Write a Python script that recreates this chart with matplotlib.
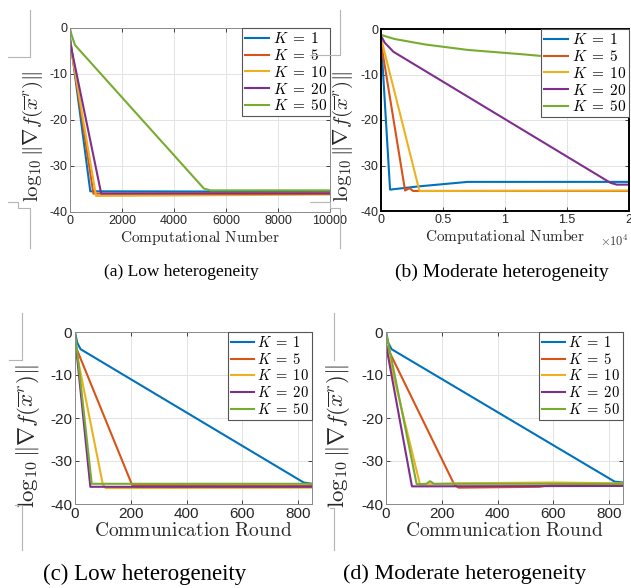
import matplotlib
matplotlib.use("Agg")
import matplotlib.pyplot as plt
from matplotlib.lines import Line2D
from matplotlib.ticker import FuncFormatter

plt.rcParams['mathtext.fontset'] = 'cm'
plt.rcParams['font.family'] = ['Liberation Sans', 'DejaVu Sans']
plt.rcParams['axes.unicode_minus'] = False

W, H = 631, 588

colors = ['#0072BD', '#D95319', '#EDB120', '#7E2F8E', '#77AC30']
K_labels = [r'$K\;=\;1$', r'$K\;=\;5$', r'$K\;=\;10$', r'$K\;=\;20$', r'$K\;=\;50$']

# Panel (a): low heterogeneity, computational number
a_x = [[0, 780, 10000],
       [0, 900, 10000],
       [0, 1000, 10000],
       [0, 1200, 10000],
       [0, 60, 190, 5150, 5400, 10000]]
a_y = [[-2, -35.5, -35.6],
       [-2.5, -36, -35.8],
       [-3, -36.5, -36.2],
       [-3, -36, -36],
       [0, -1.5, -3.7, -34.9, -35.3, -35.3]]

# Panel (b): moderate heterogeneity, computational number
b_x = [[0, 730, 3000, 7000, 20000],
       [0, 1940, 2300, 2600, 20000],
       [0, 3100, 20000],
       [0, 300, 1000, 18500, 19000, 20000],
       [0, 1100, 3550, 7000, 11600, 12800]]
b_y = [[-2, -35.3, -34.6, -33.6, -33.6],
       [-3, -35.5, -35.0, -35.6, -35.6],
       [-2, -35.6, -35.5],
       [-1.5, -3, -5, -33.8, -34.2, -34.2],
       [-1.3, -2.2, -3.4, -4.6, -5.6, -5.9]]

# Panel (c): low heterogeneity, communication round
c_x = [[0, 8, 20, 820, 850],
       [0, 205, 850],
       [0, 100, 110, 850],
       [0, 55, 850],
       [0, 60, 850]]
c_y = [[0, -2.5, -4, -35, -35.3],
       [-3, -35.6, -35.8],
       [-3, -35.5, -36.3, -36.2],
       [-1, -36, -36],
       [0, -35.3, -35.3]]

# Panel (d): moderate heterogeneity, communication round
d_x = [[0, 8, 20, 820, 850],
       [0, 245, 260, 550, 600, 850],
       [0, 122, 250, 600, 850],
       [0, 93, 850],
       [0, 110, 145, 158, 172, 850]]
d_y = [[0, -2.5, -4, -34.8, -35],
       [-3, -35.5, -36.2, -36, -35.5, -35.4],
       [-3, -35.5, -35.2, -35.0, -35.2],
       [-3, -35.9, -35.8],
       [0, -35.4, -35.3, -34.7, -35.3, -35.3]]

ylabel = r'$\log_{10}\|\nabla f(\overline{x}^r)\|$'

fig = plt.figure(figsize=(W / 100, H / 100), dpi=100)


def make_ax(l, r, t, b):
    return fig.add_axes([l / W, 1 - b / H, (r - l) / W, (b - t) / H])


panels = [
    dict(box=(70, 330, 28, 212), xs=a_x, ys=a_y, xlim=(0, 10000),
         xticks=[0, 2000, 4000, 6000, 8000, 10000],
         xlabel=r'$\mathrm{Computational\ Number}$', xl_size=11, yl_size=15,
         yl_xy=(-0.096, 0.41),
         tick_size=9, caption='(a) Low heterogeneity', cap_xy=(181, 272),
         cap_size=12.5, black=False, leg_size=11),
    dict(box=(381, 629, 29, 211), xs=b_x, ys=b_y, xlim=(0, 20000),
         xticks=[0, 5000, 10000, 15000, 20000],
         xlabel=r'$\mathrm{Computational\ Number}$', xl_size=11, yl_size=15,
         yl_xy=(-0.105, 0.41),
         tick_size=9, caption='(b) Moderate heterogeneity', cap_xy=(502, 272),
         cap_size=14, black=True, leg_size=11),
    dict(box=(75, 312, 332, 504), xs=c_x, ys=c_y, xlim=(0, 850),
         xticks=[0, 200, 400, 600, 800],
         xlabel=r'$\mathrm{Communication\ Round}$', xl_size=14, yl_size=16.5,
         yl_xy=(-0.139, 0.395),
         tick_size=11, caption='(c) Low heterogeneity', cap_xy=(145, 574),
         cap_size=16.5, black=False, leg_size=10.5),
    dict(box=(386, 623, 332, 504), xs=d_x, ys=d_y, xlim=(0, 850),
         xticks=[0, 200, 400, 600, 800],
         xlabel=r'$\mathrm{Communication\ Round}$', xl_size=14, yl_size=16.5,
         yl_xy=(-0.143, 0.395),
         tick_size=11, caption='(d) Moderate heterogeneity', cap_xy=(465, 574),
         cap_size=16, black=False, leg_size=10.5),
]

for i, p in enumerate(panels):
    ax = make_ax(*p['box'])
    for k in range(5):
        ax.plot(p['xs'][k], p['ys'][k], color=colors[k], lw=1.5,
                label=K_labels[k])
    ax.set_xlim(*p['xlim'])
    ax.set_ylim(-40, 0)
    ax.set_xticks(p['xticks'])
    ax.set_yticks([-40, -30, -20, -10, 0])
    ax.grid(True, color='#e3e3e3', lw=0.7)
    ax.set_axisbelow(True)
    ax.tick_params(direction='in', top=True, right=True, length=3,
                   labelsize=p['tick_size'], colors='#262626', width=0.6,
                   pad=2)
    ec = 'black' if p['black'] else '#8a8a8a'
    lw = 1.4 if p['black'] else 0.7
    for s in ax.spines.values():
        s.set_color(ec)
        s.set_linewidth(lw)
    if i == 1:
        ax.xaxis.set_major_formatter(FuncFormatter(
            lambda v, pos: ('%g' % (v / 1e4))))
        ax.text(1.0, -0.17, r'$\times10^4$', transform=ax.transAxes,
                fontsize=9, color='#404040', ha='right', va='center',
                family='DejaVu Sans')
    ax.set_xlabel(p['xlabel'], fontsize=p['xl_size'], labelpad=1,
                  color='#262626')
    ax.set_ylabel(ylabel, fontsize=p['yl_size'], color='#262626')
    ax.yaxis.set_label_coords(*p['yl_xy'])
    leg = ax.legend(loc='upper right', fontsize=p['leg_size'],
                    borderaxespad=0, fancybox=False, framealpha=1,
                    edgecolor='#555555', handlelength=1.6, handletextpad=0.2,
                    borderpad=0.2, labelspacing=0.12)
    leg.get_frame().set_linewidth(0.8)
    fig.text(p['cap_xy'][0] / W, 1 - p['cap_xy'][1] / H, p['caption'],
             ha='center', va='center', fontsize=p['cap_size'],
             family='Liberation Serif')

# gray crop-mark artifacts present in the reference
gray = '#b5b5b5'
marks = [
    [(8, 57), (30, 57), (30, 10)],
    [(8, 202), (18, 202), (18, 208), (30, 208), (30, 248)],
    [(310, 55), (340, 55), (340, 10)],
    [(310, 202), (330, 202), (330, 208), (340, 208), (340, 248)],
    [(9, 360), (22, 360), (22, 313)],
    [(15, 505), (22, 505), (22, 550)],
    [(334, 313), (334, 360)],
    [(330, 508), (334, 508), (334, 550)],
]
for m in marks:
    xs = [pt[0] / W for pt in m]
    ys = [1 - pt[1] / H for pt in m]
    fig.add_artist(Line2D(xs, ys, color=gray, lw=0.8))

fig.savefig('out.png', dpi=100)
